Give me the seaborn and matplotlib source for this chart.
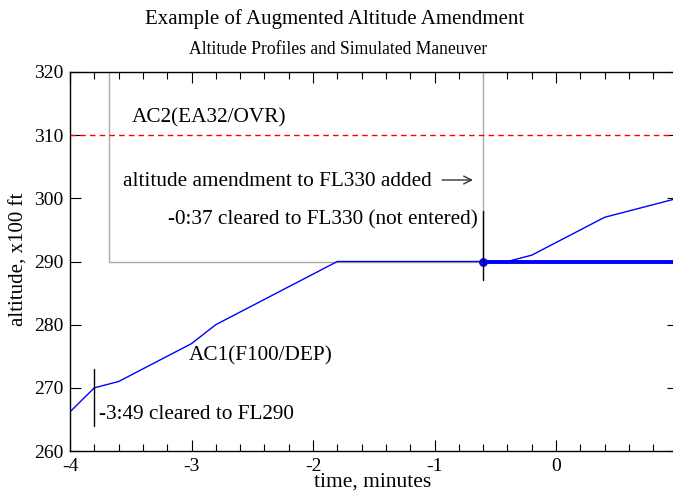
import numpy as np
import pandas as pd
import matplotlib
matplotlib.use("Agg")
import matplotlib.pyplot as plt
import seaborn as sns
from matplotlib.ticker import MultipleLocator, FuncFormatter

# AC1 climb profile (time in minutes, altitude x100 ft)
ac1_t = [-4.0, -3.8, -3.6, -3.0, -2.8, -1.8, -0.6]
ac1_alt = [266.2, 270, 271, 277, 280, 290, 290]

# simulated maneuver after the amendment
sim_t = [-0.6, -0.4, -0.2, 0.4, 1.0]
sim_alt = [290, 290, 291, 297, 300]

# level-off at FL290 (thick line)
level_t = [-0.6, 1.0]
level_alt = [290, 290]

# AC2 level at FL310
ac2_t = [-4.0, 1.0]
ac2_alt = [310, 310]

# grey amendment window
box_t = [-3.68, -3.68, -0.6, -0.6]
box_alt = [321, 290, 290, 321]

# clearance markers
clr1_t = [-3.8, -3.8]
clr1_alt = [264, 273]
clr2_t = [-0.6, -0.6]
clr2_alt = [287, 298]

sns.set_style("ticks")
plt.rcParams["font.family"] = ["Liberation Serif", "DejaVu Serif"]
plt.rcParams["xtick.direction"] = "in"
plt.rcParams["ytick.direction"] = "in"
plt.rcParams["axes.unicode_minus"] = False
plt.rcParams["text.color"] = "black"
plt.rcParams["xtick.labelcolor"] = "black"
plt.rcParams["ytick.labelcolor"] = "black"

fig = plt.figure(figsize=(6.73, 4.92), dpi=100)
W, H = 673, 492
# the right edge of the plot runs just past the picture, as in the original
ax = fig.add_axes([70 / W, 1 - 451 / H, (677.5 - 70) / W, (451 - 72) / H])

ax.plot(box_t, box_alt, color="#aaaaaa", lw=1.0, clip_on=True)
sns.lineplot(x=ac2_t, y=ac2_alt, ax=ax, color="red", lw=1.0, linestyle=(0, (4, 3)))
sns.lineplot(x=ac1_t, y=ac1_alt, ax=ax, color="blue", lw=1.0)
sns.lineplot(x=sim_t, y=sim_alt, ax=ax, color="blue", lw=1.0)
sns.lineplot(x=level_t, y=level_alt, ax=ax, color="blue", lw=2.8)
ax.plot([-0.6], [290], "o", color="blue", ms=4.5, mfc="none", mew=1.8)
ax.plot(clr1_t, clr1_alt, color="black", lw=1.0)
ax.plot(clr2_t, clr2_alt, color="black", lw=1.0)

fs = 15.3
ax.text(-3.49, 312.8, "AC2(EA32/OVR)", fontsize=fs, va="center")
ax.text(-3.56, 302.7, "altitude amendment to FL330 added", fontsize=fs, va="center")
ax.annotate("", xy=(-0.66, 302.9), xytext=(-0.96, 302.9),
            arrowprops=dict(arrowstyle="->", color="#333333", lw=1.0,
                            mutation_scale=14))
ax.text(-0.64, 296.6, "-0:37 cleared to FL330 (not entered)", fontsize=fs,
        va="center", ha="right")
ax.text(-3.02, 275.0, "AC1(F100/DEP)", fontsize=fs, va="center")
ax.text(-3.76, 265.7, "-3:49 cleared to FL290", fontsize=fs, va="center")

ax.set_xlim(-4, 1)
ax.set_ylim(260, 320)
ax.xaxis.set_major_locator(MultipleLocator(1))
ax.xaxis.set_minor_locator(MultipleLocator(0.2))
ax.xaxis.set_major_formatter(FuncFormatter(lambda v, p: "" if v > 0.5 else f"{v:g}"))
ax.yaxis.set_major_locator(MultipleLocator(10))
ax.tick_params(which="both", top=True, right=True, labelsize=14, color="black")
ax.tick_params(which="major", length=8, width=0.8, pad=5)
ax.tick_params(which="minor", length=5, width=0.8)
for s in ax.spines.values():
    s.set_color("black")
    s.set_linewidth(1.0)
ax.set_xlabel("")
ax.set_ylabel("")

fig.text(373 / W, 1 - 482 / H, "time, minutes", fontsize=15.5, ha="center", va="center")
fig.text(19 / W, 1 - 259 / H, "altitude, x100 ft", fontsize=15, ha="center",
         va="center", rotation=90)
fig.text(335 / W, 1 - 19 / H, "Example of Augmented Altitude Amendment", fontsize=15,
         ha="center", va="center")
fig.text(338 / W, 1 - 50 / H, "Altitude Profiles and Simulated Maneuver", fontsize=12.7,
         ha="center", va="center")

fig.savefig("out.png", dpi=100)
